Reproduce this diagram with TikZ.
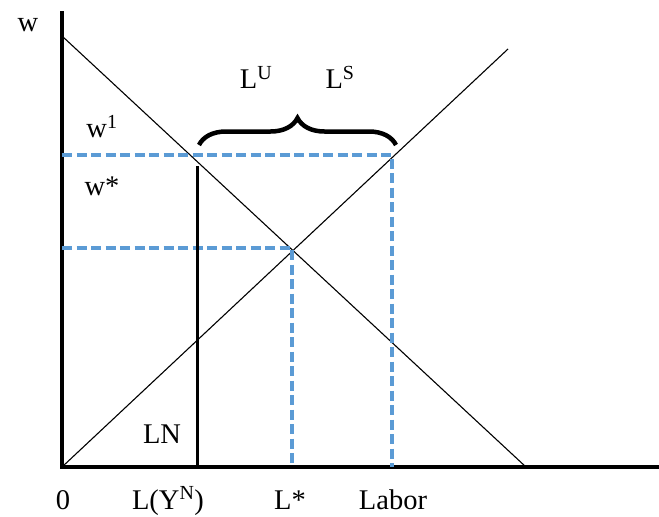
\documentclass[tikz,border=0pt]{standalone}
\usepackage{fontspec}
\setmainfont{Liberation Serif}
\usetikzlibrary{decorations.pathreplacing}
\definecolor{dashblue}{HTML}{5B9BD5}
\begin{document}
\begin{tikzpicture}[x=1pt,y=-1pt,
  axis/.style={line width=4pt},
  curve/.style={line width=1.1pt},
  guide/.style={dashblue,line width=3.4pt,dash pattern=on 10pt off 4.5pt},
  lbl/.style={font=\fontsize{28.5}{32}\selectfont,inner sep=0pt},
  blbl/.style={lbl,anchor=base},
  bracestyle/.style={line width=4.5pt,decorate,decoration={brace,amplitude=27pt}}]
\useasboundingbox (0,0) rectangle (659,517);
% axes
\coordinate (O) at (62,467);
\coordinate (ytop) at (62,11);
\coordinate (xend) at (659,467);
\draw[axis] (ytop) -- (O) -- (xend);
% demand and supply
\coordinate (d1) at (62,36);
\coordinate (d2) at (526,467);
\coordinate (s2) at (508,49);
\draw[curve] (d1) -- (d2);
\draw[curve] (O) -- (s2);
% dashed guides
\coordinate (w1l) at (62,155);
\coordinate (w1r) at (392,155);
\coordinate (w1b) at (392,467);
\coordinate (wsl) at (62,248);
\coordinate (wsr) at (292,248);
\coordinate (wsb) at (292,467);
\draw[guide] (w1l) -- (w1r) -- (w1b);
\draw[guide] (wsl) -- (wsr) -- (wsb);
% LN vertical
\coordinate (ln1) at (197,166);
\coordinate (ln2) at (197,467);
\draw[line width=3pt] (ln1) -- (ln2);
% brace
\coordinate (b1) at (199,145);
\coordinate (b2) at (396,145);
\draw[bracestyle] (b1) -- (b2);
% labels
\node[lbl] (lw) at (28,25) {w};
\node[lbl] (lw1) at (102,127) {w\textsuperscript{1}};
\node[lbl] (lws) at (102,186) {w*};
\node[lbl] (lLU) at (256,77) {L\textsuperscript{U}};
\node[lbl] (lLS) at (340,77) {L\textsuperscript{S}};
\node[lbl] (lLN) at (162,434) {LN};
\node[blbl] (l0) at (63,509) {0};
\node[blbl] (lLY) at (168,509) {L(Y\textsuperscript{N})};
\node[blbl] (lLstar) at (290,509) {L*};
\node[blbl] (lLabor) at (393,509) {Labor};
\end{tikzpicture}
\end{document}
